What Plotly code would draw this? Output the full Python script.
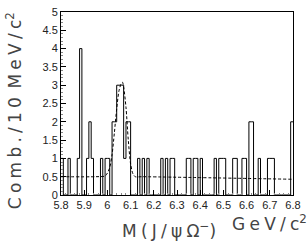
import numpy as np
import plotly.graph_objects as go

# ---- data ----
bin_low = 5.80
bin_width = 0.01
n_bins = 100
# nonzero bin contents: bin index -> entries
nonzero_bins = [0, 3, 7, 8, 11, 12, 13, 17, 19, 20, 22, 23, 24, 25, 26, 27, 28, 29,
                33, 35, 37, 43, 45, 47, 48, 54, 55, 57, 58, 60, 66, 68, 69, 70,
                74, 75, 78, 79, 81, 82, 85, 89, 90, 91, 99]
nonzero_vals = [1, 1, 1, 4, 1, 2, 1, 1, 1, 1, 2, 2, 3, 3, 3, 1, 2, 2,
                1, 1, 1, 1, 1, 1, 1, 1, 1, 1, 1, 1, 1, 1, 1, 1,
                1, 1, 1, 1, 2, 2, 1, 1, 1, 1, 2]

fit_x = [5.80, 5.95, 5.99, 6.00, 6.01, 6.02, 6.03, 6.04, 6.05, 6.06, 6.065,
         6.07, 6.08, 6.09, 6.10, 6.11, 6.12, 6.15, 6.80]
fit_y = [0.50, 0.50, 0.52, 0.60, 0.75, 1.10, 1.70, 2.35, 2.85, 3.05, 3.08,
         2.95, 2.40, 1.50, 0.85, 0.58, 0.50, 0.50, 0.43]

x_tickvals = [5.8, 5.9, 6.0, 6.1, 6.2, 6.3, 6.4, 6.5, 6.6, 6.7, 6.8]
x_ticktext = ["5.8", "5.9", "6", "6.1", "6.2", "6.3", "6.4", "6.5", "6.6", "6.7", "6.8"]
y_tickvals = [0, 0.5, 1, 1.5, 2, 2.5, 3, 3.5, 4, 4.5, 5]
y_ticktext = ["0", "0.5", "1", "1.5", "2", "2.5", "3", "3.5", "4", "4.5", "5"]

# ---- build histogram step outline ----
counts = np.zeros(n_bins)
for b, v in zip(nonzero_bins, nonzero_vals):
    counts[b] = v
edges = bin_low + bin_width * np.arange(n_bins + 1)
step_x = list(edges)
step_y = list(counts) + [counts[-1]]

W, H = 307, 245
ml, mr, mt, mb = 61, 7, 6, 50
pw, ph = W - ml - mr, H - mt - mb

fig = go.Figure()
fig.add_trace(go.Scatter(x=step_x, y=step_y, mode="lines",
                         line=dict(shape="hv", color="black", width=1),
                         hoverinfo="skip", showlegend=False))
fig.add_trace(go.Scatter(x=fit_x, y=fit_y, mode="lines",
                         line=dict(shape="spline", smoothing=0.8, color="black", width=1,
                                   dash="3px,2px"),
                         hoverinfo="skip", showlegend=False))

tickfont = dict(family="Liberation Sans Narrow, Liberation Sans, sans-serif", size=11, color="#222")
fig.update_xaxes(range=[5.7999, 6.8001], tickvals=x_tickvals, ticktext=x_ticktext,
                 ticks="inside", ticklen=5, tickcolor="black", ticklabeloverflow="allow",
                 minor=dict(ticks="inside", ticklen=2, dtick=0.02, tickcolor="#888"),
                 showline=True, linecolor="black", linewidth=1, mirror=True,
                 showgrid=False, zeroline=False, tickfont=tickfont)
fig.update_yaxes(range=[-0.0001, 5.0001], tickvals=y_tickvals, ticktext=y_ticktext,
                 ticks="inside", ticklen=5, tickcolor="black", ticklabeloverflow="allow",
                 minor=dict(ticks="inside", ticklen=2, dtick=0.1, tickcolor="#888"),
                 showline=True, linecolor="black", linewidth=1, mirror=True,
                 showgrid=False, zeroline=False, tickfont=tickfont)

sp = "\u2005"
ytitle = sp.join(list("Comb./10")) + sp + sp + sp.join(list("MeV/c")) + "<sup>2</sup>"
xtitle = sp.join(list("M(J/ψΩ")) + "<sup>−</sup>)"
utitle = sp.join(list("GeV/c")) + "<sup>2</sup>"

titlefont = dict(family="DejaVu Sans, sans-serif", size=17, color="#444")
fig.add_annotation(text=ytitle, textangle=-90,
                   xref="paper", yref="paper", x=-(ml - 12) / pw, y=(195 - 108) / ph,
                   xanchor="center", yanchor="middle", showarrow=False, font=titlefont)
fig.add_annotation(text=xtitle,
                   xref="paper", yref="paper", x=(172 - ml) / pw, y=-(231 - 195) / ph,
                   xanchor="center", yanchor="middle", showarrow=False, font=titlefont)
fig.add_annotation(text=utitle,
                   xref="paper", yref="paper", x=(276 - ml) / pw, y=-(224 - 195) / ph,
                   xanchor="center", yanchor="middle", showarrow=False, font=titlefont)

fig.update_layout(width=W, height=H, margin=dict(l=ml, r=mr, t=mt, b=mb),
                  paper_bgcolor="white", plot_bgcolor="white")
fig.write_html("out.html", config={"displayModeBar": False},
               post_script="document.body.style.margin='0px';document.body.style.overflow='hidden';")
